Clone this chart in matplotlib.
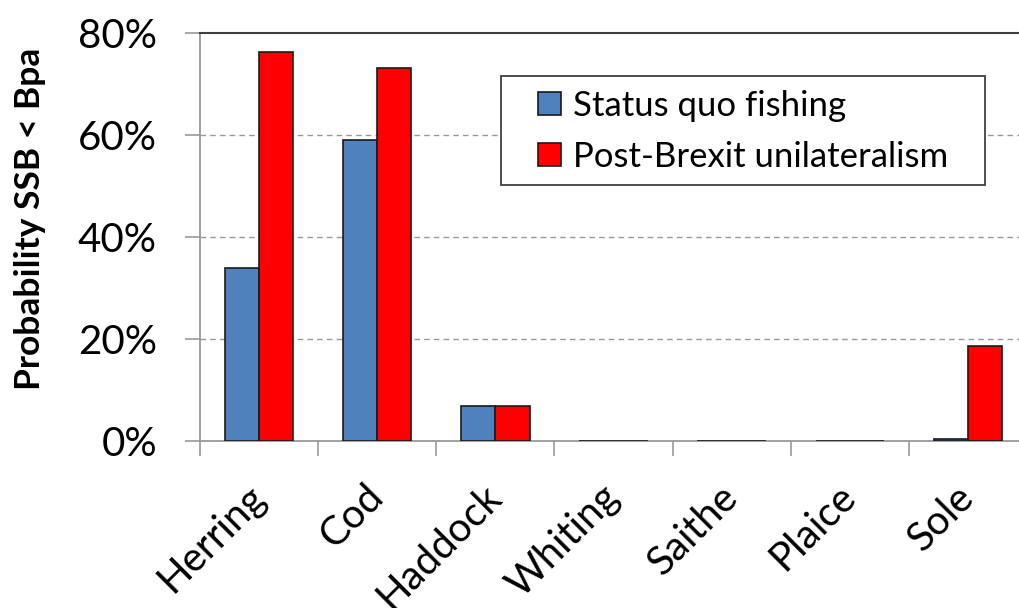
import matplotlib
matplotlib.use("Agg")
import matplotlib.pyplot as plt
import matplotlib.transforms as mtransforms
from matplotlib.patches import Rectangle
import numpy as np
from matplotlib.ticker import FixedLocator

categories = ["Herring", "Cod", "Haddock", "Whiting", "Saithe", "Plaice", "Sole"]
status_quo = [34.0, 59.0, 6.9, 0.0, 0.0, 0.0, 0.3]
post_brexit = [76.3, 73.1, 6.9, 0.0, 0.0, 0.0, 18.6]
series_names = ["Status quo fishing", "Post-Brexit unilateralism"]
yticks = [0, 20, 40, 60, 80]
ytick_labels = ["0%", "20%", "40%", "60%", "80%"]

FONT = ["Lato", "DejaVu Sans"]
plt.rcParams['font.family'] = FONT

W, H = 1019, 608
fig = plt.figure(figsize=(W/100, H/100), dpi=100)
ax = fig.add_axes([200/W, 167/H, 827/W, 408/H])

x = np.arange(len(categories))
w = 0.29
ax.bar(x - w/2, status_quo, width=w, color="#4F81BD", edgecolor="#1a1a1a", linewidth=1.2,
       label=series_names[0], zorder=3)
ax.bar(x + w/2, post_brexit, width=w, color="#FF0000", edgecolor="#1a1a1a", linewidth=1.2,
       label=series_names[1], zorder=3)

ax.set_xlim(-0.5, len(categories) - 0.5)
ax.set_ylim(0, 80)

ax.set_yticks(yticks)
ax.set_yticklabels(ytick_labels, fontsize=29)
for yv in yticks[1:-1]:
    ax.axhline(yv, color="#999999", linestyle=(0, (4, 3)), linewidth=1.0, zorder=1)

ax.set_xticks(x)
ax.set_xticklabels(categories, fontsize=29, rotation=45, ha="right", va="center",
                   rotation_mode="anchor")
offset = mtransforms.ScaledTranslation(9/100, 0, fig.dpi_scale_trans)
for lbl in ax.get_xticklabels():
    lbl.set_transform(lbl.get_transform() + offset)
ax.xaxis.set_minor_locator(FixedLocator(np.arange(-0.5, len(categories), 1.0)))
ax.tick_params(axis="x", which="major", length=0, pad=36)
ax.tick_params(axis="x", which="minor", length=11, color="#999999", width=1.2, direction="out")
ax.tick_params(axis="y", which="major", length=11, color="#999999", width=1.2, direction="out", pad=20)

for s in ["left", "bottom"]:
    ax.spines[s].set_color("#999999")
    ax.spines[s].set_linewidth(1.3)
ax.spines["top"].set_color("#404040")
ax.spines["top"].set_linewidth(1.5)
ax.spines["right"].set_visible(False)

ax.set_ylabel("Probability SSB < Bpa", fontsize=25.5, fontweight="bold", va="center")
ax.yaxis.set_label_coords((30-200)/827, (441-219)/408)

# legend frame
ax.add_patch(Rectangle(((501-200)/827, (441-185)/408), 484/827, 109/408,
                       transform=ax.transAxes, facecolor="white", edgecolor="#404040",
                       linewidth=1.3, zorder=4))
leg = ax.legend(loc="upper left", bbox_to_anchor=((538-200)/827, (441-90)/408),
                fontsize=25, frameon=False,
                handlelength=0.65, handleheight=0.65, handletextpad=0.35,
                borderpad=0, labelspacing=0.55, borderaxespad=0)
leg.set_zorder(5)

fig.savefig("out.png", dpi=100)
